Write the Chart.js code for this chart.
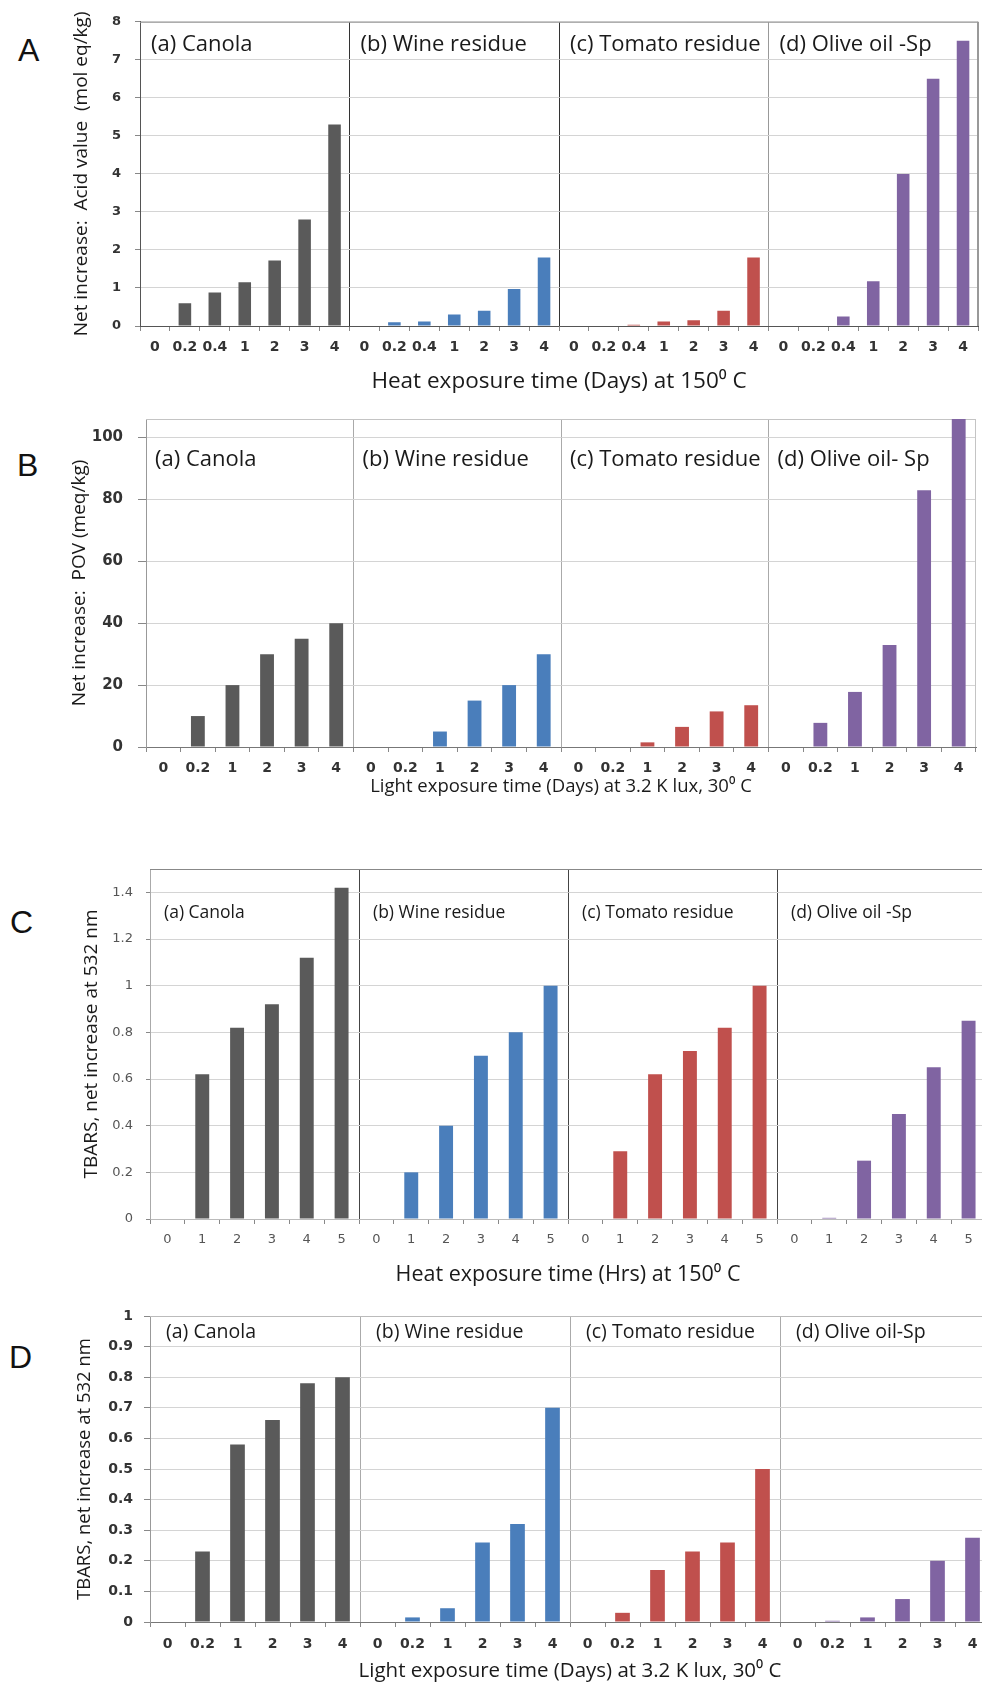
<!DOCTYPE html>
<html>
<head>
<meta charset="utf-8">
<script src="https://cdn.jsdelivr.net/npm/chart.js@4.4.0/dist/chart.umd.min.js"></script>
<style>
html, body { margin:0; padding:0; background:#fff; width:982px; height:1683px; overflow:hidden; }
.box { position:absolute; left:0; }
.letter { position:absolute; font-family:"Liberation Sans", Arial, sans-serif; font-size:32px; line-height:1; color:#111; }
</style>
</head>
<body>
<div class="letter" style="left:18px;top:34px">A</div>
<div class="letter" style="left:17px;top:449px">B</div>
<div class="letter" style="left:10px;top:906px">C</div>
<div class="letter" style="left:9px;top:1341px">D</div>

<div class="box" style="top:0"><canvas id="chartA" width="982" height="395"></canvas></div>
<div class="box" style="top:395px"><canvas id="chartB" width="982" height="405"></canvas></div>
<div class="box" style="top:800px"><canvas id="chartC" width="990" height="488"></canvas></div>
<div class="box" style="top:1280px"><canvas id="chartD" width="995" height="406"></canvas></div>

<script>
// sample names, one sub panel each
var groupColors = ["#5a5a5a", "#4a7ebb", "#c0504d", "#8064a2"];
var namesA = ["(a) Canola", "(b) Wine residue", "(c) Tomato residue", "(d) Olive oil -Sp"];
var namesB = ["(a) Canola", "(b) Wine residue", "(c) Tomato residue", "(d) Olive oil- Sp"];
var namesC = ["(a) Canola", "(b) Wine residue", "(c) Tomato residue", "(d) Olive oil -Sp"];
var namesD = ["(a) Canola", "(b) Wine residue", "(c) Tomato residue", "(d) Olive oil-Sp"];

// A - acid value, heat exposure (days) at 150 C
var daysA = ["0", "0.2", "0.4", "1", "2", "3", "4"];
var acidCanola = [0, 0.6, 0.88, 1.15, 1.72, 2.8, 5.3];
var acidWine   = [0, 0.1, 0.12, 0.3, 0.4, 0.97, 1.8];
var acidTomato = [0, 0, 0.03, 0.12, 0.15, 0.4, 1.8];
var acidOlive  = [0, 0, 0.25, 1.18, 4.0, 6.5, 7.5];

// B - POV, light exposure (days)
var daysB = ["0", "0.2", "1", "2", "3", "4"];
var povCanola = [0, 10, 20, 30, 35, 40];
var povWine   = [0, 0, 5, 15, 20, 30];
var povTomato = [0, 0, 1.5, 6.5, 11.5, 13.5];
var povOlive  = [0, 7.8, 17.8, 33, 83, 106];

// C - TBARS, heat exposure (hrs)
var hrsC = ["0", "1", "2", "3", "4", "5"];
var tbHeatCanola = [0, 0.62, 0.82, 0.92, 1.12, 1.42];
var tbHeatWine   = [0, 0.2, 0.4, 0.7, 0.8, 1.0];
var tbHeatTomato = [0, 0.29, 0.62, 0.72, 0.82, 1.0];
var tbHeatOlive  = [0, 0.005, 0.25, 0.45, 0.65, 0.85];

// D - TBARS, light exposure (days)
var daysD = ["0", "0.2", "1", "2", "3", "4"];
var tbLightCanola = [0, 0.23, 0.58, 0.66, 0.78, 0.8];
var tbLightWine   = [0, 0.015, 0.045, 0.26, 0.32, 0.7];
var tbLightTomato = [0, 0.03, 0.17, 0.23, 0.26, 0.5];
var tbLightOlive  = [0, 0.004, 0.015, 0.075, 0.2, 0.275];

var TXT = '"Open Sans", "Liberation Sans", sans-serif';
var NUM = '"DejaVu Sans", Verdana, sans-serif';

// frame line on top/right + names of the sub panels
var panelDeco = {
	id: 'panelDeco',
	beforeDatasetsDraw: function(chart, args, o){
		var ctx = chart.ctx, a = chart.chartArea;
		ctx.save();
		ctx.lineWidth = 1;
		ctx.strokeStyle = o.frameColor;
		ctx.beginPath();
		ctx.moveTo(a.left, a.top + 0.5);
		ctx.lineTo(a.right, a.top + 0.5);
		ctx.moveTo(a.right - 0.5, a.top);
		ctx.lineTo(a.right - 0.5, a.bottom);
		ctx.stroke();
		ctx.restore();
	},
	afterDraw: function(chart, args, o){
		var ctx = chart.ctx, a = chart.chartArea, xs = chart.scales.x;
		var step = xs.getPixelForValue(1) - xs.getPixelForValue(0);
		ctx.save();
		ctx.font = o.font;
		ctx.fillStyle = o.color;
		ctx.textAlign = 'left';
		ctx.textBaseline = 'middle';
		for (var g = 0; g < o.names.length; g++) {
			var left = xs.getPixelForValue(g * o.per) - step / 2;
			ctx.fillText(o.names[g], left + o.dx, a.top + o.dy);
		}
		ctx.restore();
	}
};

function makePanel(id, p){
	var per = p.cats.length;
	var labels = [], values = [], colors = [];
	for (var g = 0; g < p.series.length; g++) {
		for (var k = 0; k < per; k++) {
			labels.push(p.cats[k]);
			values.push(p.series[g][k]);
			colors.push(groupColors[g]);
		}
	}
	var ctx = document.getElementById(id).getContext('2d');
	return new Chart(ctx, {
		type: 'bar',
		data: {
			labels: labels,
			datasets: [{
				data: values,
				backgroundColor: colors,
				borderWidth: 0,
				categoryPercentage: 1,
				barPercentage: p.barPct
			}]
		},
		plugins: [panelDeco],
		options: {
			responsive: false,
			animation: false,
			layout: { padding: { left: 0, top: p.padTop, right: p.padRight, bottom: 0 } },
			plugins: {
				legend: { display: false },
				tooltip: { enabled: false },
				panelDeco: {
					names: p.names, per: per, font: p.nameFont, color: '#1a1a1a',
					dx: p.nameDx, dy: p.nameDy, frameColor: p.frameColor
				}
			},
			scales: {
				x: {
					offset: true,
					grid: {
						offset: true,
						lineWidth: 1,
						tickLength: 5,
						tickColor: '#888',
						color: function(c){
							if (c.index === undefined) return p.frameColor;
							if (c.index === 0) return 'rgba(0,0,0,0)';
							if (c.index % per === 0) return p.dividers[c.index / per - 1];
							return 'rgba(0,0,0,0)';
						}
					},
					border: { color: p.xAxisColor },
					ticks: {
						autoSkip: false, maxRotation: 0, minRotation: 0,
						padding: p.xTickPad, color: p.tickColor,
						font: { family: NUM, size: p.xTickSize, weight: p.tickWeight }
					},
					title: {
						display: true, text: p.xTitle, color: '#1a1a1a',
						font: { family: TXT, size: p.xTitleSize },
						padding: { top: 0, bottom: p.xTitlePad }
					},
					afterFit: function(s){ s.height = p.xHeight; }
				},
				y: {
					min: 0, max: p.yMax,
					grid: { color: '#d4d4d4', lineWidth: 1, tickLength: p.yTickLen, tickColor: '#888' },
					border: { color: p.yAxisColor },
					ticks: {
						stepSize: p.yStep, includeBounds: false,
						padding: p.yTickPad, color: p.tickColor,
						font: { family: NUM, size: p.yTickSize, weight: p.tickWeight },
						callback: function(v){ return String(Math.round(v * 100) / 100); }
					},
					title: {
						display: true, text: p.yTitle, color: '#1a1a1a',
						font: { family: TXT, size: p.yTitleSize },
						padding: { top: p.yTitleX - p.yTitleSize * 0.6, bottom: 0 }
					},
					afterFit: function(s){ s.width = p.yWidth; }
				}
			}
		}
	});
}

makePanel('chartA', {
	cats: daysA, series: [acidCanola, acidWine, acidTomato, acidOlive], names: namesA,
	yMax: 8, yStep: 1, barPct: 0.42,
	padTop: 19, padRight: 4, yWidth: 140, xHeight: 69,
	xTickPad: 8, xTickSize: 14, yTickSize: 13, yTickLen: 5, yTickPad: 14,
	tickWeight: 'bold', tickColor: '#333',
	xTitle: 'Heat exposure time (Days) at 150\u2070 C', xTitleSize: 22.5, xTitlePad: 0,
	yTitle: 'Net increase:  Acid value  (mol eq/kg)', yTitleSize: 19, yTitleX: 82,
	nameFont: '22px ' + TXT, nameDx: 11, nameDy: 23,
	dividers: ['#333', '#333', '#999'], frameColor: '#999',
	xAxisColor: '#555', yAxisColor: '#555'
});

makePanel('chartB', {
	cats: daysB, series: [povCanola, povWine, povTomato, povOlive], names: namesB,
	yMax: 106, yStep: 20, barPct: 0.4,
	padTop: 22, padRight: 6, yWidth: 146, xHeight: 53,
	xTickPad: 8, xTickSize: 14, yTickSize: 15, yTickLen: 8, yTickPad: 15,
	tickWeight: 'bold', tickColor: '#333',
	xTitle: 'Light exposure time (Days) at 3.2 K lux, 30\u2070 C', xTitleSize: 18.5, xTitlePad: 1.9,
	yTitle: 'Net increase:  POV (meq/kg)', yTitleSize: 19, yTitleX: 80,
	nameFont: '22px ' + TXT, nameDx: 9, nameDy: 41,
	dividers: ['#aaa', '#aaa', '#aaa'], frameColor: '#c4c4c4',
	xAxisColor: '#777', yAxisColor: '#999'
});

makePanel('chartC', {
	cats: hrsC, series: [tbHeatCanola, tbHeatWine, tbHeatTomato, tbHeatOlive], names: namesC,
	yMax: 1.5, yStep: 0.2, barPct: 0.4,
	padTop: 69, padRight: 4, yWidth: 150, xHeight: 69,
	xTickPad: 8, xTickSize: 13, yTickSize: 13, yTickLen: 4, yTickPad: 13,
	tickWeight: 'normal', tickColor: '#555',
	xTitle: 'Heat exposure time (Hrs) at 150\u2070 C', xTitleSize: 21.5, xTitlePad: 0,
	yTitle: 'TBARS, net increase at 532 nm', yTitleSize: 19, yTitleX: 92,
	nameFont: '17.5px ' + TXT, nameDx: 14, nameDy: 44,
	dividers: ['#444', '#444', '#444'], frameColor: '#888',
	xAxisColor: '#bbb', yAxisColor: '#aaa'
});

makePanel('chartD', {
	cats: daysD, series: [tbLightCanola, tbLightWine, tbLightTomato, tbLightOlive], names: namesD,
	yMax: 1, yStep: 0.1, barPct: 0.42,
	padTop: 36, padRight: 5, yWidth: 150, xHeight: 64,
	xTickPad: 9, xTickSize: 14, yTickSize: 14, yTickLen: 6, yTickPad: 11,
	tickWeight: 'bold', tickColor: '#333',
	xTitle: 'Light exposure time (Days) at 3.2 K lux, 30\u2070 C', xTitleSize: 20.5, xTitlePad: 2.5,
	yTitle: 'TBARS, net increase at 532 nm', yTitleSize: 18.5, yTitleX: 85,
	nameFont: '19.5px ' + TXT, nameDx: 16, nameDy: 16,
	dividers: ['#aaa', '#aaa', '#aaa'], frameColor: '#bbb',
	xAxisColor: '#777', yAxisColor: '#999'
});
</script>
</body>
</html>
